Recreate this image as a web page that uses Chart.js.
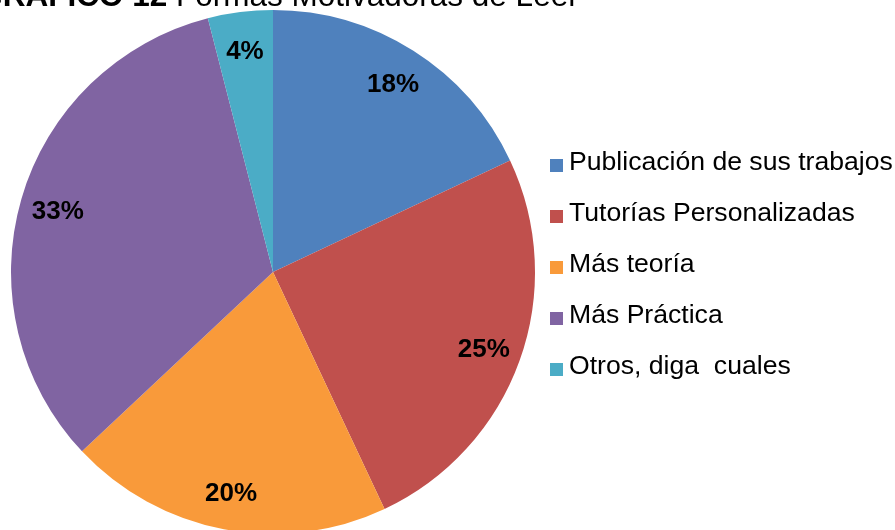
<!DOCTYPE html>
<html>
<head>
<meta charset="utf-8">
<script src="https://cdn.jsdelivr.net/npm/chart.js@4/dist/chart.umd.min.js"></script>
<style>
  html, body { margin: 0; padding: 0; background: #ffffff; overflow: hidden; }
  #wrap { width: 895px; height: 530px; overflow: hidden; position: relative; }
  canvas { display: block; }
</style>
</head>
<body>
<div id="wrap"><canvas id="c" width="895" height="545"></canvas></div>
<script>
const titleBold = 'GRÁFICO 12';
const titleRest = 'Formas Motivadoras de Leer';
const categories = ['Publicación de sus trabajos', 'Tutorías Personalizadas', 'Más teoría', 'Más Práctica', 'Otros, diga  cuales'];
const values = [18, 25, 20, 33, 4];
const colors = ['#4F81BD', '#C0504D', '#F99A3A', '#8064A2', '#4BACC6'];

const FONT = '"Liberation Sans", Arial, sans-serif';

const labelPlugin = {
  id: 'sliceLabels',
  afterDatasetsDraw(chart) {
    const ctx = chart.ctx;
    const meta = chart.getDatasetMeta(0);
    const total = values.reduce((a, b) => a + b, 0);
    ctx.save();
    ctx.font = 'bold 26px ' + FONT;
    ctx.fillStyle = '#000000';
    ctx.textAlign = 'center';
    ctx.textBaseline = 'middle';
    meta.data.forEach((arc, i) => {
      const p = arc.getProps(['x', 'y', 'startAngle', 'endAngle', 'outerRadius'], true);
      const mid = (p.startAngle + p.endAngle) / 2;
      const r = p.outerRadius * 0.855;
      const x = p.x + Math.cos(mid) * r;
      const y = p.y + Math.sin(mid) * r;
      ctx.fillText(Math.round(values[i] / total * 100) + '%', x, y + 2);
    });
    ctx.restore();
  }
};

const legendTitlePlugin = {
  id: 'legendTitle',
  afterDraw(chart) {
    const ctx = chart.ctx;
    ctx.save();
    // legend
    ctx.font = '26.6px ' + FONT;
    ctx.textAlign = 'left';
    ctx.textBaseline = 'alphabetic';
    categories.forEach((name, i) => {
      const base = 170 + i * 51;
      ctx.fillStyle = colors[i];
      ctx.fillRect(550, base - 11, 13, 13);
      ctx.fillStyle = '#000000';
      ctx.fillText(name, 569, base);
    });
    // title (partly cut by top edge)
    ctx.fillStyle = '#000000';
    ctx.font = 'bold 31.5px ' + FONT;
    const wBold = ctx.measureText(titleBold + ' ').width;
    const startRest = 176;
    ctx.fillText(titleBold + ' ', startRest - wBold, 6);
    ctx.font = '31.5px ' + FONT;
    ctx.fillText(titleRest, startRest, 6);
    ctx.restore();
  }
};

new Chart(document.getElementById('c'), {
  type: 'pie',
  data: {
    labels: categories,
    datasets: [{
      data: values,
      backgroundColor: colors,
      borderWidth: 0
    }]
  },
  options: {
    responsive: false,
    animation: false,
    devicePixelRatio: 1,
    layout: { padding: { left: 10, top: 10, right: 359, bottom: 11 } },
    plugins: {
      legend: { display: false },
      tooltip: { enabled: false },
      title: { display: false }
    }
  },
  plugins: [labelPlugin, legendTitlePlugin]
});
</script>
</body>
</html>
